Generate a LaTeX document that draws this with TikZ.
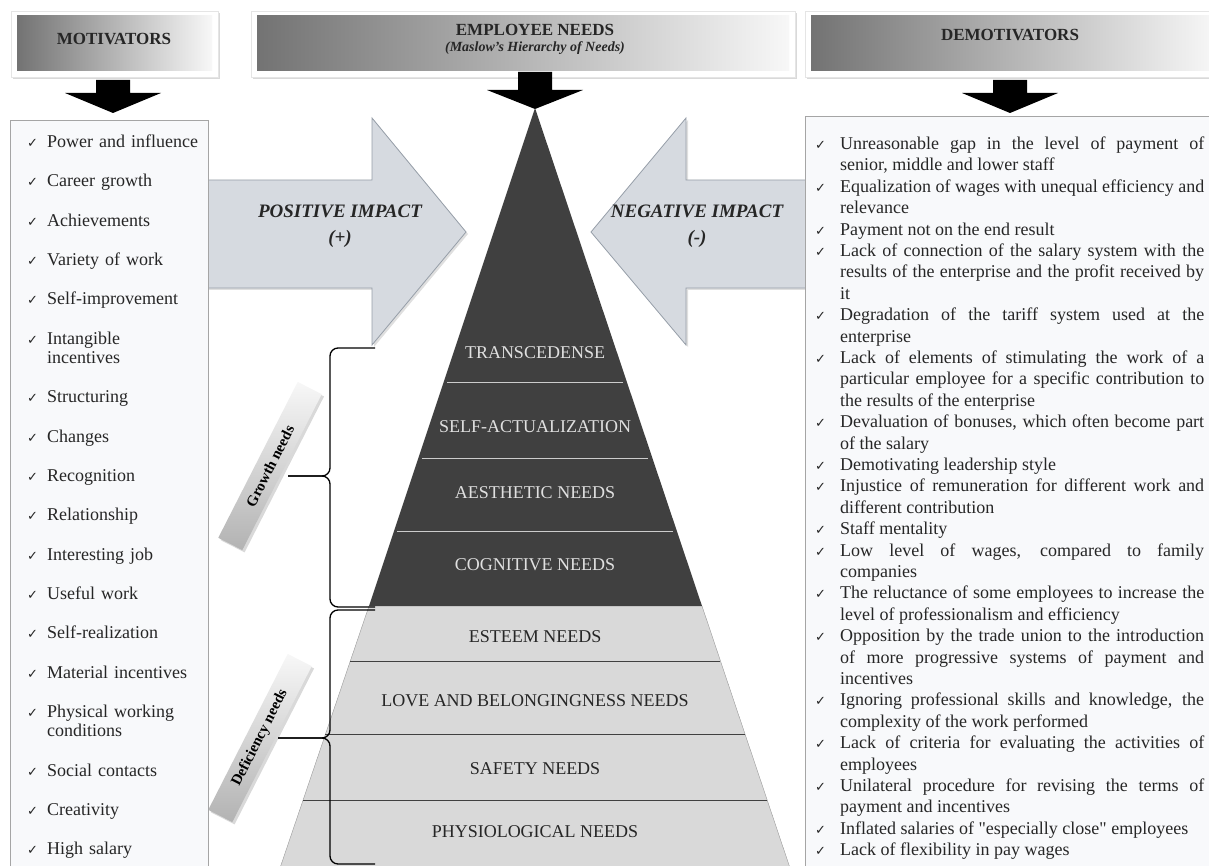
\documentclass[tikz,border=0pt]{standalone}
\usepackage{fontspec}
\setmainfont{Liberation Serif}
\newfontfamily\symfont{DejaVu Sans}
\usepackage{xcolor}
\usetikzlibrary{shadows}

\definecolor{pyrdark}{RGB}{64,64,64}
\definecolor{pyrlight}{RGB}{217,217,217}
\definecolor{impactfill}{RGB}{214,218,224}
\definecolor{impactline}{RGB}{150,158,168}
\definecolor{listfill}{RGB}{248,249,251}
\definecolor{listline}{RGB}{165,165,165}

% check mark and list items
\newcommand{\chk}{{\symfont\fontsize{13}{13}\selectfont ✓}}
\newcommand{\mitem}[1]{\par\noindent\hangindent=20pt\hangafter=1\makebox[20pt][l]{\chk}#1}
\newcommand{\ditem}[1]{\par\noindent\hangindent=25pt\hangafter=1\makebox[25pt][l]{\chk}#1}
\newcommand{\sq}{{\addfontfeature{Ligatures=TeXOff}"}}

\begin{document}
\begin{tikzpicture}[x=1pt,y=-1pt,
    hdrframe/.style={fill=white, draw=black!10, drop shadow={shadow xshift=1.5pt, shadow yshift=-2pt, opacity=0.3}},
    hdrshade/.style={left color=black!55, middle color=black!22, right color=black!3},
    hdrtext/.style={font=\bfseries\fontsize{17}{19}\selectfont, text=black!85, align=center},
    impact/.style={fill=impactfill, draw=impactline, line width=0.8pt, drop shadow={shadow xshift=2pt, shadow yshift=-2pt, opacity=0.25}},
    impacttext/.style={font=\bfseries\itshape\fontsize{19}{26}\selectfont, align=center, text=black!85},
    listbox/.style={draw=listline, fill=listfill, line width=0.8pt},
    level/.style={font=\fontsize{18}{20}\selectfont},
    ribbon/.style={top color=black!3, bottom color=black!30, minimum width=175pt, minimum height=27pt, inner sep=0pt, drop shadow={opacity=0.3}, font=\bfseries\fontsize{15}{16}\selectfont},
    bracket/.style={line width=1.3pt, rounded corners=8pt}]

    \useasboundingbox (0,0) rectangle (1209,866);

    % Headers
    \filldraw[hdrframe] (11,11) rectangle (218,77);
    \shade[hdrshade] (17,16) rectangle (212,71);
    \node[hdrtext] (motiv) at (114,39) {MOTIVATORS};

    \filldraw[hdrframe] (251,11) rectangle (795,77);
    \shade[hdrshade] (257,16) rectangle (789,71);
    \node[hdrtext] (needs) at (535,30) {EMPLOYEE NEEDS};
    \node[font=\bfseries\itshape\fontsize{14}{15}\selectfont, text=black!85] (maslow) at (535,48) {(Maslow's Hierarchy of Needs)};

    \filldraw[hdrframe] (805,11) rectangle (1215,77);
    \shade[hdrshade] (811,16) rectangle (1215,71);
    \node[hdrtext] (demotiv) at (1010,35) {DEMOTIVATORS};

    % Black arrows under the headers
    \foreach \cx/\ya/\yb/\yc in {113/80/93/113, 535/72/90/109, 1010/80/93/113}
        \fill[black] (\cx-17,\ya) -- (\cx+17,\ya) -- (\cx+17,\yb) -- (\cx+48,\yb)
            -- (\cx,\yc) -- (\cx-48,\yb) -- (\cx-17,\yb) -- cycle;

    % Impact arrows
    \filldraw[impact] (200,180) -- (372,180) -- (372,118) -- (466,232) -- (372,345)
        -- (372,288) -- (200,288) -- cycle;
    \filldraw[impact] (815,180) -- (686,180) -- (686,118) -- (591,232) -- (686,345)
        -- (686,288) -- (815,288) -- cycle;
    \node[impacttext] (posimp) at (340,226) {POSITIVE IMPACT\\(+)};
    \node[impacttext] (negimp) at (697,226) {NEGATIVE IMPACT\\(-)};

    % Pyramid
    \fill[pyrlight] (369,606) -- (702,606) -- (790,868) -- (280,868) -- cycle;
    \draw[black!40, thin] (369,606) -- (280,868) (702,606) -- (790,868);
    \fill[pyrdark] (535,108) -- (702,606) -- (369,606) -- cycle;
    \foreach \yy in {382,458,531}
        \draw[black!20, line width=1pt] ({535-0.335*(\yy-108)+4},\yy) -- ({535+0.335*(\yy-108)-4},\yy);
    \foreach \yy in {661,734,800}
        \draw[black!75, line width=1pt] ({535-0.335*(\yy-108)},\yy) -- ({535+0.335*(\yy-108)},\yy);

    % Levels of needs
    \foreach \lbl/\yy/\nm in {TRANSCEDENSE/353/trans, SELF-ACTUALIZATION/427/selfact,
            AESTHETIC NEEDS/493/aesth, COGNITIVE NEEDS/565/cogn}
        \node[level, text=black!12] (\nm) at (535,\yy) {\lbl};
    \foreach \lbl/\yy/\nm in {ESTEEM NEEDS/637/esteem, LOVE AND BELONGINGNESS NEEDS/701/love,
            SAFETY NEEDS/769/safety, PHYSIOLOGICAL NEEDS/832/physio}
        \node[level, text=black!85] (\nm) at (535,\yy) {\lbl};

    % Growth and deficiency labels
    \node[ribbon, rotate=63] (growth) at (270,466) {Growth needs};
    \node[ribbon, rotate=63] (defic) at (260,738) {Deficiency needs};

    % Brackets
    \draw[bracket] (375,348) -- (330,348) -- (330,476) -- (288,476);
    \draw[bracket] (288,476) -- (330,476) -- (330,607) -- (375,607);
    \draw[bracket] (375,610) -- (330,610) -- (330,738) -- (278,738);
    \draw[bracket] (278,738) -- (330,738) -- (330,864) -- (375,864);

    % Motivators list
    \draw[listbox] (10,120) rectangle (208,880);
    \node[anchor=north west, inner sep=0pt, text width=180pt, align=left,
          font=\fontsize{18}{19.5}\selectfont, text=black!85] (motlist) at (27,128) {%
        \mitem{Power and influence}\setlength{\parskip}{19.8pt}
        \mitem{Career growth}
        \mitem{Achievements}
        \mitem{Variety of work}
        \mitem{Self-improvement}
        \mitem{Intangible\newline incentives}
        \mitem{Structuring}
        \mitem{Changes}
        \mitem{Recognition}
        \mitem{Relationship}
        \mitem{Interesting job}
        \mitem{Useful work}
        \mitem{Self-realization}
        \mitem{Material incentives}
        \mitem{Physical working\newline conditions}
        \mitem{Social contacts}
        \mitem{Creativity}
        \mitem{High salary}};

    % Demotivators list
    \draw[listbox] (805,116) rectangle (1215,880);
    \node[anchor=north west, inner sep=0pt, text width=389pt, align=justify,
          font=\fontsize{18}{21.4}\selectfont, text=black!85] (demlist) at (815,128) {%
        \tolerance=9999\emergencystretch=10pt%
        \ditem{Unreasonable gap in the level of payment of\linebreak senior, middle and lower staff}
        \ditem{Equalization of wages with unequal efficiency and\linebreak relevance}
        \ditem{Payment not on the end result}
        \ditem{Lack of connection of the salary system with the\linebreak results of the enterprise and the profit received by\linebreak it}
        \ditem{Degradation of the tariff system used at the\linebreak enterprise}
        \ditem{Lack of elements of stimulating the work of a\linebreak particular employee for a specific contribution to\linebreak the results of the enterprise}
        \ditem{Devaluation of bonuses, which often become part\linebreak of the salary}
        \ditem{Demotivating leadership style}
        \ditem{Injustice of remuneration for different work and\linebreak different contribution}
        \ditem{Staff mentality}
        \ditem{Low level of wages, compared to family\linebreak companies}
        \ditem{The reluctance of some employees to increase the\linebreak level of professionalism and efficiency}
        \ditem{Opposition by the trade union to the introduction\linebreak of more progressive systems of payment and\linebreak incentives}
        \ditem{Ignoring professional skills and knowledge, the\linebreak complexity of the work performed}
        \ditem{Lack of criteria for evaluating the activities of\linebreak employees}
        \ditem{Unilateral procedure for revising the terms of\linebreak payment and incentives}
        \ditem{Inflated salaries of \sq especially close\sq\ employees}
        \ditem{Lack of flexibility in pay wages}};
\end{tikzpicture}
\end{document}
